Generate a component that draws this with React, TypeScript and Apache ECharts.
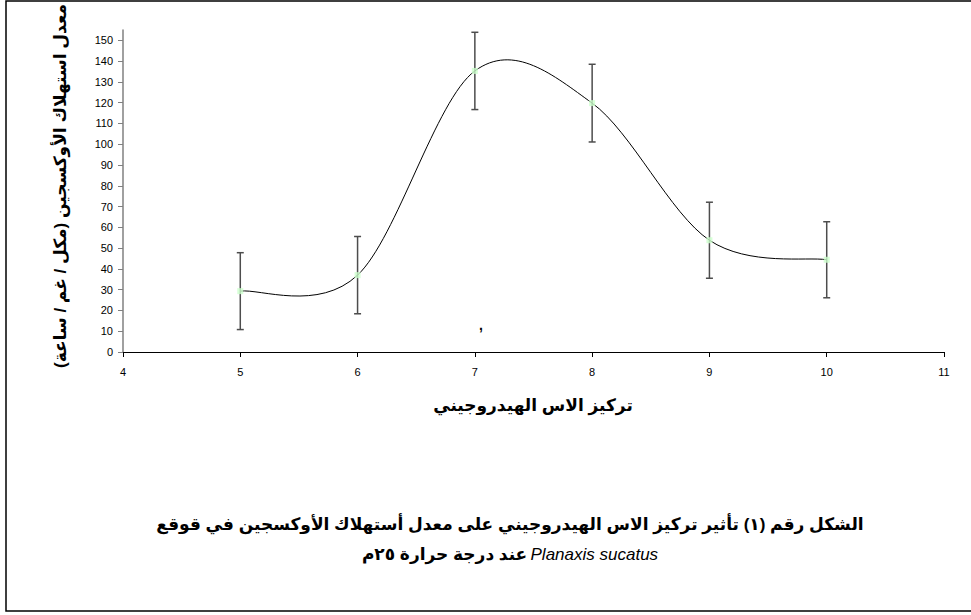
import React, { useEffect, useRef } from "react";
import * as echarts from "echarts";

const xValues = [5, 6, 7, 8, 9, 10];
const yValues = [29.3, 37, 135.3, 119.8, 53.8, 44.4];
const errValues = [18.5, 18.6, 18.6, 18.7, 18.3, 18.3];
const xTicks = [4, 5, 6, 7, 8, 9, 10, 11];
const yTicks = [0, 10, 20, 30, 40, 50, 60, 70, 80, 90, 100, 110, 120, 130, 140, 150];

const yAxisTitle = "معدل استهلاك الأوكسجين (مكل / غم / ساعة)";
const xAxisTitle = "تركيز الاس الهيدروجيني";
const captionLine1 = "الشكل رقم (١) تأثير تركيز الاس الهيدروجيني على معدل أستهلاك الأوكسجين في قوقع";
const captionArabic2 = "عند درجة حرارة ٢٥م";
const captionLatin = "Planaxis sucatus";
const strayMark = ",";

const FONT = "Arial, 'Liberation Sans', 'DejaVu Sans', sans-serif";

export default function App() {
  const ref = useRef<HTMLDivElement>(null);

  useEffect(() => {
    document.body.style.margin = "0";
    const chart = echarts.init(ref.current!, undefined, { renderer: "svg" });

    const pointData = xValues.map((x, i) => [x, yValues[i]]);
    const errData = xValues.map((x, i) => [x, yValues[i] - errValues[i], yValues[i] + errValues[i]]);
    const segData = xValues.slice(0, -1).map((x, i) => [x, yValues[i], xValues[i + 1], yValues[i + 1]]);

    chart.setOption({
      animation: false,
      backgroundColor: "#ffffff",
      textStyle: { fontFamily: FONT },
      grid: { left: 123, right: 27, top: 30, bottom: 263, containLabel: false },
      xAxis: {
        type: "value",
        min: 4,
        max: 11,
        interval: 1,
        axisLine: { show: true, onZero: false, lineStyle: { color: "#000", width: 1 } },
        axisTick: { show: true, inside: false, length: 5, lineStyle: { color: "#000" }, customValues: xTicks },
        axisLabel: { color: "#000", fontSize: 11, margin: 14, fontFamily: FONT, customValues: xTicks },
        splitLine: { show: false },
      },
      yAxis: {
        type: "value",
        min: 0,
        max: 155,
        interval: 10,
        axisLine: { show: true, lineStyle: { color: "#808080", width: 1.5 } },
        axisTick: { show: true, inside: false, length: 5, lineStyle: { color: "#808080" }, customValues: yTicks },
        axisLabel: { color: "#000", fontSize: 11, margin: 10, fontFamily: FONT, customValues: yTicks },
        splitLine: { show: false },
      },
      series: [
        {
          type: "custom",
          z: 1,
          data: errData,
          encode: { x: 0, y: [1, 2] },
          renderItem: (params: any, api: any) => {
            const x = api.value(0);
            const lo = api.coord([x, api.value(1)]);
            const hi = api.coord([x, api.value(2)]);
            const half = 3.5;
            const st = { stroke: "#4d4d4d", lineWidth: 1.5 };
            return {
              type: "group",
              children: [
                { type: "line", shape: { x1: lo[0], y1: lo[1], x2: hi[0], y2: hi[1] }, style: st },
                { type: "line", shape: { x1: lo[0] - half, y1: lo[1], x2: lo[0] + half, y2: lo[1] }, style: st },
                { type: "line", shape: { x1: hi[0] - half, y1: hi[1], x2: hi[0] + half, y2: hi[1] }, style: st },
              ],
            };
          },
        },
        {
          type: "custom",
          z: 2,
          data: segData,
          encode: { x: [0, 2], y: [1, 3] },
          renderItem: (params: any, api: any) => {
            const P = xValues.map((x, k) => api.coord([x, yValues[k]]));
            const i = params.dataIndex;
            const p0 = P[i - 1] || P[i];
            const p1 = P[i];
            const p2 = P[i + 1];
            const p3 = P[i + 2] || P[i + 1];
            const t = 1 / 6;
            return {
              type: "bezierCurve",
              shape: {
                x1: p1[0],
                y1: p1[1],
                x2: p2[0],
                y2: p2[1],
                cpx1: p1[0] + (p2[0] - p0[0]) * t,
                cpy1: p1[1] + (p2[1] - p0[1]) * t,
                cpx2: p2[0] - (p3[0] - p1[0]) * t,
                cpy2: p2[1] - (p3[1] - p1[1]) * t,
              },
              style: { stroke: "#000", lineWidth: 1, fill: "none" },
            };
          },
        },
        {
          type: "scatter",
          z: 3,
          data: pointData,
          symbol: "rect",
          symbolSize: 6,
          itemStyle: { color: "#ccffcc" },
        },
      ],
      graphic: [
        {
          type: "rect",
          shape: { x: 6, y: 1, width: 990, height: 610 },
          style: { fill: "none", stroke: "#000", lineWidth: 1.5 },
          silent: true,
        },
        {
          type: "text",
          x: 60,
          y: 186,
          rotation: Math.PI / 2,
          style: {
            text: yAxisTitle,
            font: `bold 17px ${FONT}`,
            fill: "#000",
            align: "center",
            verticalAlign: "middle",
          },
        },
        {
          type: "text",
          x: 533,
          y: 405,
          style: {
            text: xAxisTitle,
            font: `bold 17px ${FONT}`,
            fill: "#000",
            align: "center",
            verticalAlign: "middle",
          },
        },
        {
          type: "text",
          x: 481,
          y: 325,
          style: {
            text: strayMark,
            font: `bold 14px ${FONT}`,
            fill: "#000",
            align: "center",
            verticalAlign: "middle",
          },
        },
        {
          type: "text",
          x: 510,
          y: 524,
          style: {
            text: captionLine1,
            font: `bold 17px ${FONT}`,
            fill: "#000",
            align: "center",
            verticalAlign: "middle",
          },
        },
        {
          type: "text",
          x: 510,
          y: 554,
          style: {
            text: `{ar|${captionArabic2}} {la|${captionLatin}}`,
            align: "center",
            verticalAlign: "middle",
            rich: {
              ar: { font: `bold 17px ${FONT}`, fill: "#000" },
              la: { font: `italic 17px ${FONT}`, fill: "#000" },
            },
          },
        },
      ],
    });

    return () => chart.dispose();
  }, []);

  return (
    <div
      ref={ref}
      style={{ position: "absolute", left: 0, top: 0, width: 971, height: 615, background: "#fff" }}
    />
  );
}
